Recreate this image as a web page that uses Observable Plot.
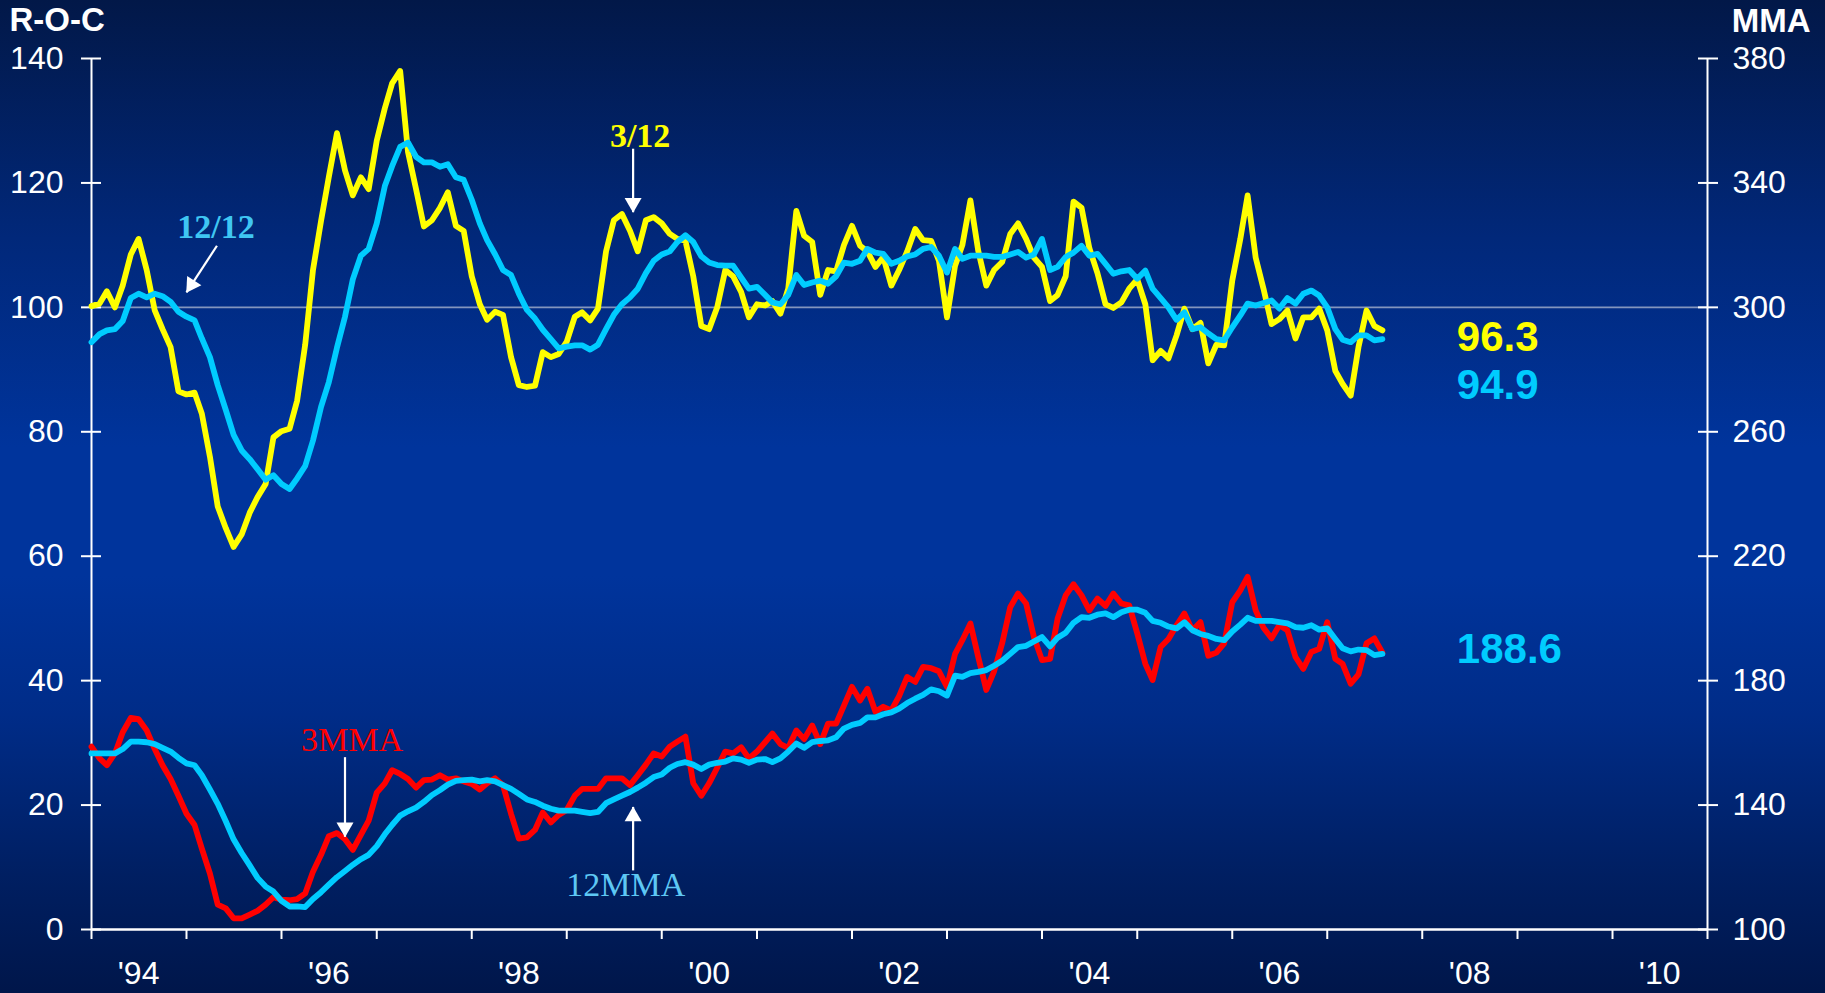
<!DOCTYPE html>
<html>
<head>
<meta charset="utf-8">
<script src="https://cdn.jsdelivr.net/npm/d3@7"></script>
<script src="https://cdn.jsdelivr.net/npm/@observablehq/plot@0.6"></script>
<style>
html, body { margin: 0; padding: 0; width: 1825px; height: 993px; overflow: hidden; }
body {
  background: linear-gradient(to bottom, #021848 0%, #01287a 24%, #00349c 45%, #00349c 58%, #002c88 72%, #001f62 88%, #00164a 100%);
}
#chart svg { display: block; }
</style>
</head>
<body>
<div id="chart"></div>
<script>
// ---- Data (monthly, Jan 1994 – Aug 2007) ----
const startMonth = "1994-01";

// Rate-of-change 3/12 (left axis, R-O-C)
const roc3_12 = [
100.2,100.6,102.6,100.0,103.5,108.5,111.0,106.0,99.5,96.5,93.6,86.5,
86.0,86.3,82.9,76.0,68.0,64.5,61.5,63.5,67.0,69.5,71.6,79.1,
80.1,80.5,85.0,94.0,106.0,113.9,121.0,128.0,122.0,118.0,120.9,119.0,
126.8,132.0,136.0,138.0,125.0,119.0,113.0,114.0,116.0,118.5,113.1,112.3,
105.0,100.5,98.0,99.3,98.8,92.0,87.5,87.2,87.4,92.8,92.0,92.5,
94.5,98.5,99.2,97.9,99.8,109.0,114.0,115.0,112.3,109.0,114.0,114.5,
113.5,111.8,111.0,110.7,105.0,97.0,96.5,100.0,106.0,105.0,102.5,98.4,
100.5,100.3,101.0,99.0,103.0,115.5,111.5,110.5,102.0,106.0,105.8,110.0,
113.1,109.9,109.0,106.5,108.1,103.5,106.0,109.0,112.6,110.8,110.7,107.5,
98.4,106.7,110.0,117.2,109.1,103.5,106.0,107.3,111.8,113.5,111.0,108.0,
106.5,101.0,102.0,105.0,117.0,116.0,109.5,105.5,100.5,99.9,100.8,103.0,
104.5,100.5,91.5,93.0,91.8,95.5,99.8,96.5,97.5,91.0,94.0,93.9,
104.3,111.0,118.0,108.0,103.0,97.3,98.1,99.5,95.0,98.4,98.4,99.8,
96.3,89.8,87.7,85.8,93.6,99.5,97.0,96.3
];

// Rate-of-change 12/12 (left axis, R-O-C)
const roc12_12 = [
94.4,95.7,96.3,96.5,97.8,101.5,102.2,101.6,102.2,101.8,100.9,99.3,
98.5,97.9,95.0,92.0,87.5,83.5,79.5,77.0,75.6,74.0,72.3,73.0,
71.6,70.8,72.5,74.5,78.6,84.0,88.0,93.5,98.5,104.5,108.3,109.4,
113.5,119.5,122.7,125.8,126.5,124.2,123.3,123.3,122.6,123.0,120.9,120.5,
117.3,113.5,110.8,108.5,106.0,105.2,102.2,99.6,98.2,96.4,94.9,93.4,
93.7,93.9,93.9,93.2,94.0,96.5,98.8,100.5,101.6,103.0,105.5,107.5,
108.5,109.0,110.5,111.6,110.5,108.2,107.2,106.8,106.7,106.7,104.8,103.0,
103.3,102.0,100.8,100.5,102.0,105.2,103.6,104.0,104.3,103.8,105.0,107.2,
107.0,107.5,109.4,108.8,108.6,107.0,107.5,108.2,108.5,109.4,109.7,108.3,
105.6,109.4,107.8,108.3,108.3,108.3,108.1,108.1,108.5,108.9,108.0,108.5,
111.0,106.0,106.5,108.1,108.8,109.9,108.3,108.6,107.0,105.4,105.8,106.0,
104.6,105.9,103.0,101.5,100.0,98.0,99.2,96.5,96.8,95.8,94.9,94.7,
96.8,98.7,100.6,100.3,100.7,101.1,99.8,101.5,100.6,102.2,102.7,101.9,
100.0,96.5,94.8,94.4,95.5,95.5,94.7,94.9
];

// 3-month moving average (right axis, MMA)
const mma3 = [
158.8,155.0,152.8,156.6,163.4,168.0,167.6,164.0,158.0,152.8,148.4,143.0,
137.2,133.6,126.0,118.0,108.0,106.8,103.6,103.6,104.8,106.0,108.0,110.4,
109.6,109.4,109.8,111.6,118.6,124.0,130.0,131.0,129.0,125.6,130.4,135.0,
144.0,147.0,151.2,150.0,148.4,145.6,148.0,148.2,149.6,148.2,148.6,147.6,
146.8,145.0,147.0,148.6,146.4,137.2,129.2,129.6,132.0,137.6,134.4,136.8,
138.4,143.0,145.2,145.2,145.2,148.6,148.6,148.6,146.4,149.6,153.0,156.6,
155.6,158.8,160.4,162.0,147.0,143.0,147.0,152.0,157.2,156.6,158.6,155.0,
157.2,160.2,163.0,159.6,158.4,164.0,161.2,165.6,159.6,166.2,166.2,172.0,
178.0,173.6,177.4,170.0,171.6,170.4,175.0,181.2,179.6,184.4,184.0,183.0,
178.0,188.6,193.0,198.4,187.6,177.0,183.0,192.0,203.6,208.0,204.8,194.0,
186.6,187.0,200.0,207.4,211.0,207.4,202.6,206.4,204.0,208.0,204.8,204.2,
195.2,185.4,180.2,190.8,193.4,197.8,201.6,196.2,198.8,188.0,189.0,192.0,
205.2,209.0,213.4,202.6,197.0,193.6,197.8,196.2,187.6,183.8,189.2,190.2,
198.8,187.0,185.4,179.0,182.0,192.0,193.6,189.0
];

// 12-month moving average (right axis, MMA)
const mma12 = [
156.6,156.6,156.6,156.6,158.0,160.4,160.4,160.2,159.6,158.4,157.2,155.2,
153.4,152.8,149.6,145.0,140.4,134.8,129.0,124.6,120.6,116.6,113.8,112.2,
109.2,107.4,107.4,107.2,109.8,112.0,114.4,116.8,118.8,120.8,122.6,124.0,
126.8,130.6,133.6,136.6,138.0,139.2,141.0,143.2,144.8,146.6,147.8,148.0,
148.2,147.6,148.0,147.6,146.4,145.2,143.6,141.8,141.0,139.8,138.8,138.2,
138.2,138.2,137.8,137.4,137.8,140.6,141.8,143.0,144.2,145.6,147.2,149.0,
149.8,152.0,153.2,153.8,153.0,151.6,153.0,153.6,154.0,155.0,154.6,153.6,
154.6,154.8,153.8,155.0,157.2,159.8,158.4,160.2,160.6,160.8,161.8,164.6,
165.8,166.4,168.2,168.2,169.2,169.8,171.0,172.8,174.2,175.4,177.2,176.6,
175.2,181.6,181.2,182.4,182.8,183.4,184.8,186.4,188.6,190.8,191.2,192.6,
194.0,191.0,193.8,195.4,198.6,200.4,200.2,201.2,201.6,200.4,202.0,202.8,
202.8,201.8,199.2,198.6,197.4,196.8,198.8,196.2,195.0,194.4,193.4,193.0,
195.8,198.0,200.2,199.2,199.2,199.2,198.8,198.4,197.2,197.0,197.8,196.4,
196.8,193.4,190.4,189.4,190.0,189.8,188.2,188.6
];

// Axis ticks
const rocTicks = [0, 20, 40, 60, 80, 100, 120, 140];
const yearLabels = ["'94", "'96", "'98", "'00", "'02", "'04", "'06", "'08", "'10"];
const latest = { roc3_12: "96.3", roc12_12: "94.9", mma12: "188.6" };

// ---- Helpers ----
const [sy, sm] = startMonth.split("-").map(Number);
const dates = roc3_12.map((_, i) => new Date(Date.UTC(sy, sm - 1 + i, 1)));
const toRoc = v => (v - 100) / 2;          // MMA axis value -> R-O-C scale units
const D = s => new Date(s + "T00:00:00Z");
const xStart = new Date(Date.UTC(1994, 0, 1));
const xEnd = new Date(Date.UTC(2011, 0, 1));
const yearTicks = d3.utcYear.range(xStart, new Date(Date.UTC(2011, 0, 2)));
const labelDates = yearLabels.map((_, i) => new Date(Date.UTC(1994 + 2 * i, 6, 1)));
const labelMap = new Map(labelDates.map((d, i) => [+d, yearLabels[i]]));

const sans = "'Liberation Sans', Arial, Helvetica, sans-serif";
const serif = "'Liberation Serif', 'Times New Roman', serif";

// Arrow annotations (shaft start -> tip), in chart units
const arrow312  = { x1: D("1999-09-13"), y1: 125.5, x2: D("1999-09-13"), y2: 115.3 };
const arrow1212 = { x1: D("1995-04-28"), y1: 109.9, x2: D("1995-01-01"), y2: 102.4 };
const arrow3mma = { x1: D("1996-09-01"), y1: toRoc(155.4), x2: D("1996-09-01"), y2: toRoc(129.8) };
const arrow12mma= { x1: D("1999-09-13"), y1: toRoc(119.0), x2: D("1999-09-13"), y2: toRoc(139.4) };

function arrowMarks(a, rotate, dx, dy) {
  return [
    Plot.link([a], { x1: "x1", y1: "y1", x2: "x2", y2: "y2", stroke: "white", strokeWidth: 2.2 }),
    Plot.dot([a], { x: "x2", y: "y2", symbol: "triangle", r: 6.3, fill: "white", stroke: null, rotate, dx, dy })
  ];
}

const lineStyle = { strokeWidth: 5.8, strokeLinejoin: "round", strokeLinecap: "round" };

const chart = Plot.plot({
  width: 1825,
  height: 993,
  marginLeft: 91,
  marginRight: 118,
  marginTop: 58,
  marginBottom: 64,
  style: { background: "transparent", color: "white", fontFamily: sans, overflow: "visible" },
  x: { type: "utc", domain: [xStart, xEnd] },
  y: { domain: [0, 140] },
  marks: [
    // reference line at 100
    Plot.ruleY([100], { stroke: "#9aa8c8", strokeOpacity: 0.85, strokeWidth: 1.6 }),
    // axis lines
    Plot.ruleX([xStart, xEnd], { stroke: "white", strokeWidth: 2 }),
    Plot.ruleY([0], { stroke: "white", strokeWidth: 2.5 }),
    // left axis (R-O-C)
    Plot.axisY({ ticks: rocTicks, tickSize: 20, dx: 10, tickPadding: 18, fontSize: 32,
                 strokeWidth: 2, label: null, tickFormat: d => String(d) }),
    // right axis (MMA)
    Plot.axisY({ anchor: "right", ticks: rocTicks, tickSize: 20, dx: -10, tickPadding: 15, fontSize: 32,
                 strokeWidth: 2, label: null, tickFormat: d => String(100 + 2 * d) }),
    // x axis: yearly ticks
    Plot.axisX({ ticks: yearTicks, tickSize: 10, strokeWidth: 2, tickFormat: () => "", label: null }),
    // x axis: labels every two years
    Plot.axisX({ ticks: labelDates, tickSize: 0, tickPadding: 32, fontSize: 32, label: null,
                 tickFormat: d => labelMap.get(+d) }),

    // upper series
    Plot.line(roc3_12, { x: (d, i) => dates[i], y: d => d, stroke: "#ffff00", ...lineStyle }),
    Plot.line(roc12_12, { x: (d, i) => dates[i], y: d => d, stroke: "#00ccff", ...lineStyle }),
    // lower series (MMA axis)
    Plot.line(mma3, { x: (d, i) => dates[i], y: d => toRoc(d), stroke: "#ff0000", ...lineStyle }),
    Plot.line(mma12, { x: (d, i) => dates[i], y: d => toRoc(d), stroke: "#00ccff", ...lineStyle }),

    // annotations
    Plot.text(["3/12"], { x: D("1999-10-10"), y: 127.6, text: d => d, fill: "#ffff00",
                          fontFamily: serif, fontWeight: "bold", fontSize: 34 }),
    Plot.text(["12/12"], { x: D("1995-04-24"), y: 112.9, text: d => d, fill: "#3fc6f2",
                           fontFamily: serif, fontWeight: "bold", fontSize: 34 }),
    Plot.text(["3MMA"], { x: D("1996-09-28"), y: toRoc(160.8), text: d => d, fill: "#ff0000",
                          fontFamily: serif, fontSize: 34 }),
    Plot.text(["12MMA"], { x: D("1999-08-16"), y: toRoc(114.4), text: d => d, fill: "#5ec8f4",
                           fontFamily: serif, fontSize: 34 }),
    ...arrowMarks(arrow312, 180, 0, -9.3),
    ...arrowMarks(arrow1212, 213, 5.1, -7.8),
    ...arrowMarks(arrow3mma, 180, 0, -9.3),
    ...arrowMarks(arrow12mma, 0, 0, 9.3),

    // latest values
    Plot.text([latest.roc3_12], { x: D("2008-05-13"), y: 95.2, text: d => d, textAnchor: "start",
                                  fill: "#ffff00", fontWeight: "bold", fontSize: 42 }),
    Plot.text([latest.roc12_12], { x: D("2008-05-13"), y: 87.5, text: d => d, textAnchor: "start",
                                   fill: "#00ccff", fontWeight: "bold", fontSize: 42 }),
    Plot.text([latest.mma12], { x: D("2008-05-13"), y: toRoc(190), text: d => d, textAnchor: "start",
                                fill: "#00ccff", fontWeight: "bold", fontSize: 42 }),

    // axis titles
    Plot.text(["R-O-C"], { frameAnchor: "top-left", textAnchor: "start", lineAnchor: "top",
                           dx: -82, dy: -51, text: d => d, fill: "white", fontWeight: "bold", fontSize: 33 }),
    Plot.text(["MMA"], { frameAnchor: "top-right", textAnchor: "end", lineAnchor: "top",
                         dx: 103, dy: -50, text: d => d, fill: "white", fontWeight: "bold", fontSize: 33 })
  ]
});

document.getElementById("chart").appendChild(chart);
</script>
</body>
</html>
